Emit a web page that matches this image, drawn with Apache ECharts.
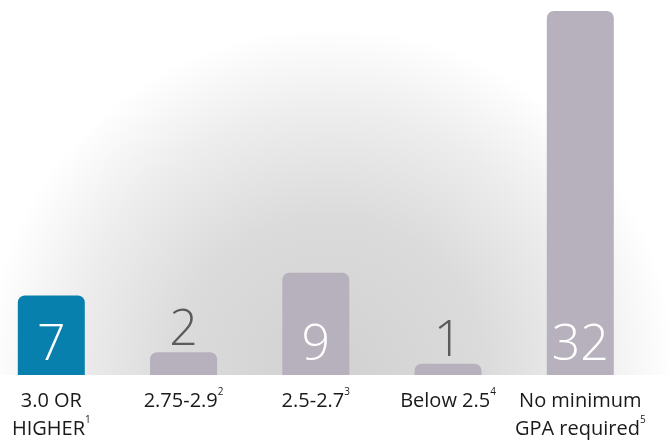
<!DOCTYPE html>
<html>
<head>
<meta charset="utf-8">
<script src="https://cdn.jsdelivr.net/npm/echarts@6/dist/echarts.min.js"></script>
<style>
html,body{margin:0;padding:0;background:#fff;}
#chart{width:668px;height:441px;}
</style>
</head>
<body>
<div id="chart"></div>
<script>
// ---- data ----
const categories = ['3.0 OR\nHIGHER', '2.75-2.9', '2.5-2.7', 'Below 2.5', 'No minimum\nGPA required'];
const footnotes = ['1', '2', '3', '4', '5'];
const values = [7, 2, 9, 1, 32];

const BLUE = '#0880ae';
const GREY = '#b7b0bd';

const chart = echarts.init(document.getElementById('chart'), null, {renderer: 'canvas'});

function catLabel(v, i) {
  const lines = String(v).split('\n');
  return lines.map((l, k) => '{a|' + l + '}' + (k === lines.length - 1 ? '{s|' + footnotes[i] + '}' : '')).join('\n');
}

const data = values.map((v, i) => {
  const inside = v >= 5;
  return {
    value: v,
    itemStyle: {color: i === 0 ? BLUE : GREY},
    label: inside
      ? {position: 'insideBottom', distance: 4, color: '#ffffff'}
      : {position: 'top', distance: -3, color: '#5b5b5b'}
  };
});

chart.setOption({
  animation: false,
  backgroundColor: '#ffffff',
  graphic: [{
    type: 'rect',
    z: -10,
    silent: true,
    shape: {x: 0, y: 0, width: 668, height: 375},
    style: {
      fill: new echarts.graphic.RadialGradient(330, 372, 345, [
        {offset: 0, color: '#d1d1d1'},
        {offset: 0.45, color: '#dbdbdb'},
        {offset: 0.75, color: '#ededed'},
        {offset: 1, color: '#ffffff'}
      ], true)
    }
  }],
  grid: {left: 51.3, right: 87.7, top: 11, bottom: 66, containLabel: false},
  xAxis: {
    type: 'category',
    data: categories,
    boundaryGap: false,
    axisLine: {show: false},
    axisTick: {show: false},
    splitLine: {show: false},
    axisLabel: {
      margin: 12,
      interval: 0,
      formatter: catLabel,
      rich: {
        a: {fontFamily: 'Open Sans', fontSize: 20, lineHeight: 28, color: '#1a1a1a'},
        s: {fontFamily: 'Open Sans', fontSize: 10, lineHeight: 27, verticalAlign: 'top', color: '#1a1a1a'}
      }
    }
  },
  yAxis: {
    type: 'value', min: 0, max: 32, show: false, splitLine: {show: false}
  },
  series: [{
    type: 'bar',
    data: data,
    barWidth: 67,
    clip: false,
    itemStyle: {borderRadius: [7, 7, 0, 0]},
    label: {
      show: true,
      fontFamily: 'Open Sans',
      fontWeight: 300,
      fontSize: 50
    }
  }]
});
</script>
</body>
</html>
